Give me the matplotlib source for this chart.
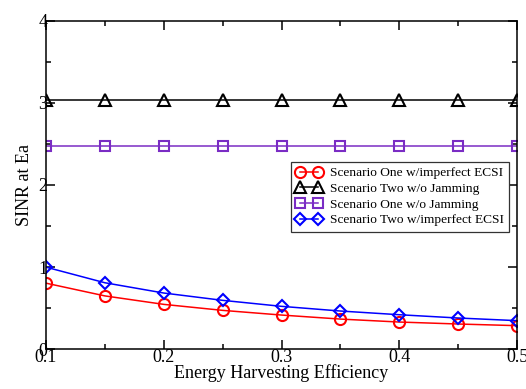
import matplotlib
matplotlib.use('Agg')

import matplotlib.pyplot as plt
from matplotlib.ticker import MultipleLocator

# Data
eta = [0.1, 0.15, 0.2, 0.25, 0.3, 0.35, 0.4, 0.45, 0.5]
one_imperfect = [0.805, 0.65, 0.547, 0.474, 0.417, 0.368, 0.332, 0.308, 0.288]
two_no_jam = [3.04] * 9
one_no_jam = [2.47] * 9
two_imperfect = [1.0, 0.81, 0.685, 0.596, 0.523, 0.466, 0.421, 0.381, 0.349]

plt.rcParams['font.family'] = ['Liberation Serif', 'DejaVu Serif']

fig = plt.figure(figsize=(5.26, 3.89), dpi=100)
ax = fig.add_axes([0.0875, 0.102, 0.8955, 0.845])

style = dict(lw=1.1, ms=8, mew=1.5, mfc='none')
ax.plot(eta, one_imperfect, color='#ff0000', marker='o',
        label='Scenario One w/imperfect ECSI', **style)
ax.plot(eta, two_no_jam, color='black', marker='^',
        label='Scenario Two w/o Jamming', **style)
ax.plot(eta, one_no_jam, color='#7a2cc4', marker='s',
        label='Scenario One w/o Jamming', **dict(style, ms=7.5))
ax.plot(eta, two_imperfect, color='#0000ff', marker='D',
        label='Scenario Two w/imperfect ECSI', **dict(style, ms=6.5))

ax.set_xlim(0.1, 0.5)
ax.set_ylim(0, 4)
ax.xaxis.set_major_locator(MultipleLocator(0.1))
ax.xaxis.set_minor_locator(MultipleLocator(0.05))
ax.yaxis.set_major_locator(MultipleLocator(1))
ax.yaxis.set_minor_locator(MultipleLocator(0.5))
ax.tick_params(which='both', direction='in', top=True, right=True,
               width=1.1, labelsize=13)
ax.tick_params(which='major', length=6.5)
ax.tick_params(which='minor', length=3.5)
ax.tick_params(axis='x', pad=-0.5)
ax.tick_params(axis='y', pad=-1)
for s in ax.spines.values():
    s.set_linewidth(1.1)

ax.set_xlabel('Energy Harvesting Efficiency', fontsize=13, labelpad=-1)
ax.set_ylabel('SINR at Ea', fontsize=13, labelpad=4)

leg = ax.legend(loc='upper right', bbox_to_anchor=(0.983, 0.571),
                borderaxespad=0, fontsize=9.6, numpoints=2,
                handlelength=1.9, handletextpad=0.6, labelspacing=0.25,
                borderpad=0.4, fancybox=False, framealpha=1)
leg.get_frame().set_edgecolor('#333333')
leg.get_frame().set_linewidth(0.9)

fig.savefig('out.png', dpi=100)
plt.close(fig)
